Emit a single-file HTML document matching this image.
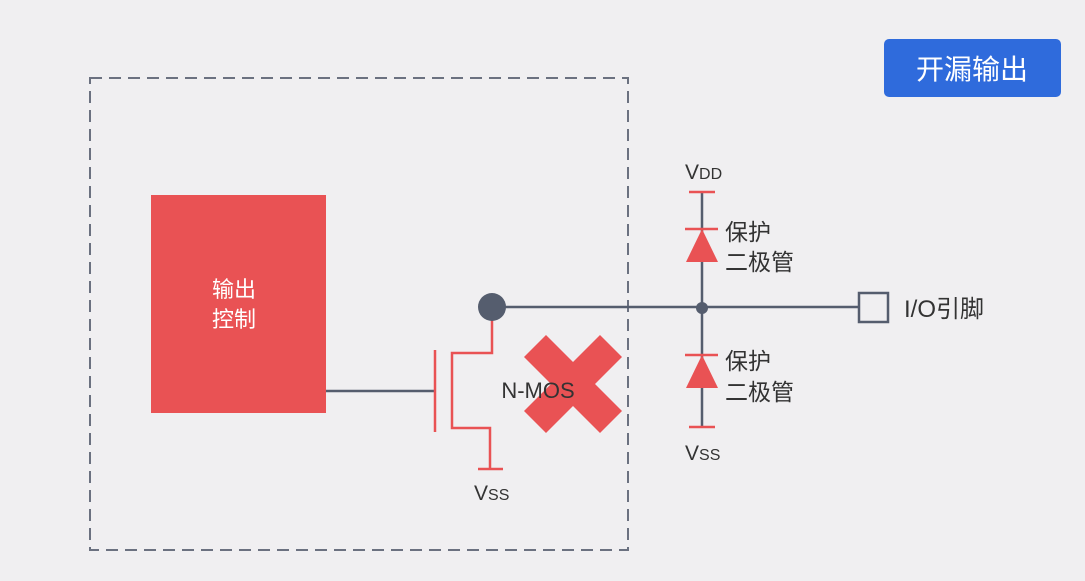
<!DOCTYPE html>
<html><head><meta charset="utf-8"><style>
html,body{margin:0;padding:0;background:#f0eff1;width:1085px;height:581px;overflow:hidden}
svg{display:block}
text{font-family:"Liberation Sans","Noto Sans CJK SC",sans-serif}
</style></head><body>
<svg width="1085" height="581" viewBox="0 0 1085 581" xmlns="http://www.w3.org/2000/svg">
<rect x="0" y="0" width="1085" height="581" fill="#f0eff1"/>
<rect x="90" y="78" width="538" height="472" fill="none" stroke="#6b7180" stroke-width="2" stroke-dasharray="12,7"/>
<rect x="884" y="39" width="177" height="58" rx="5" fill="#2f6bdc"/>
<text x="972" y="79" font-size="28" fill="#fff" text-anchor="middle" font-family="Noto Sans CJK SC">开漏输出</text>
<rect x="151" y="195" width="175" height="218" fill="#e95254"/>
<text x="234" y="297" font-size="22" fill="#fff" text-anchor="middle">输出</text>
<text x="234" y="327" font-size="22" fill="#fff" text-anchor="middle">控制</text>
<line x1="326" y1="391" x2="435" y2="391" stroke="#555d6e" stroke-width="2.5"/>
<line x1="492" y1="307" x2="858" y2="307" stroke="#555d6e" stroke-width="2.5"/>
<g stroke="#e95254" stroke-width="2.5" fill="none">
<line x1="435" y1="350" x2="435" y2="432"/>
<polyline points="492,307 492,353 452,353 452,428 490,428 490,469"/>
<line x1="478" y1="469" x2="503" y2="469"/>
</g>
<circle cx="492" cy="307" r="14" fill="#555d6e"/>
<g fill="#e95254">
<polygon points="524,357 546,335 573,362 600,335 622,357 595,384 622,411 600,433 573,406 546,433 524,411 551,384"/>
</g>
<text x="538" y="398" font-size="22" fill="#333" text-anchor="middle">N-MOS</text>
<text x="474" y="500" font-size="21" fill="#333">V<tspan font-size="16">SS</tspan></text>
<line x1="702" y1="192" x2="702" y2="427" stroke="#555d6e" stroke-width="2.5"/>
<g stroke="#e95254" stroke-width="2.5">
<line x1="689" y1="192" x2="715" y2="192"/>
<line x1="685" y1="229" x2="718" y2="229"/>
<line x1="685" y1="355" x2="718" y2="355"/>
<line x1="689" y1="427" x2="715" y2="427"/>
</g>
<polygon points="702,229 686,262 718,262" fill="#e95254"/>
<polygon points="702,355 686,388 718,388" fill="#e95254"/>
<circle cx="702" cy="308" r="6" fill="#555d6e"/>
<rect x="859" y="293" width="29" height="29" fill="#f0eff1" stroke="#555d6e" stroke-width="2.5"/>
<text x="685" y="179" font-size="21" fill="#333">V<tspan font-size="16">DD</tspan></text>
<text x="685" y="460" font-size="21" fill="#333">V<tspan font-size="16">SS</tspan></text>
<text x="725" y="240" font-size="23" fill="#333">保护</text>
<text x="725" y="270" font-size="23" fill="#333">二极管</text>
<text x="725" y="369" font-size="23" fill="#333">保护</text>
<text x="725" y="400" font-size="23" fill="#333">二极管</text>
<text x="904" y="317" font-size="24" fill="#333">I/O引脚</text>
</svg>
</body></html>
